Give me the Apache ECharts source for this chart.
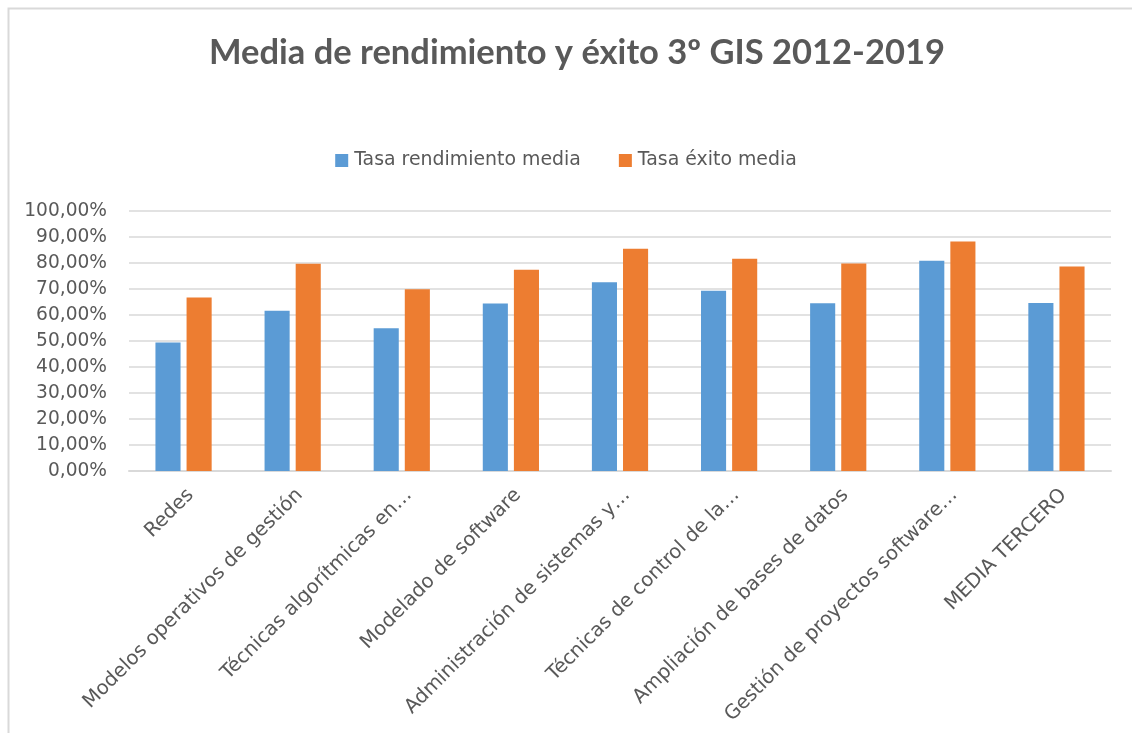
<!DOCTYPE html>
<html>
<head>
<meta charset="utf-8">
<script src="https://cdn.jsdelivr.net/npm/echarts@6/dist/echarts.min.js"></script>
<style>
  html, body { margin: 0; padding: 0; background: #ffffff; }
  #chart { width: 1132px; height: 733px; }
</style>
</head>
<body>
<div id="chart"></div>
<script>
// Asignaturas de 3º GIS (etiquetas tal como se muestran en el eje)
const categories = [
  'Redes',
  'Modelos operativos de gestión',
  'Técnicas algorítmicas en…',
  'Modelado de software',
  'Administración de sistemas y…',
  'Técnicas de control de la…',
  'Ampliación de bases de datos',
  'Gestión de proyectos software…',
  'MEDIA TERCERO'
];

// Tasas medias 2012-2019, en %
const tasaRendimiento = [49.4, 61.6, 54.9, 64.4, 72.6, 69.3, 64.5, 80.9, 64.6];
const tasaExito       = [66.7, 79.7, 69.9, 77.4, 85.5, 81.6, 79.8, 88.3, 78.7];

const yTicks = { min: 0, max: 100, interval: 10 };

const textColor = '#595959';
const bodyFont = '"DejaVu Sans", sans-serif';
const titleFont = 'Lato, "Open Sans", sans-serif';

const chart = echarts.init(document.getElementById('chart'), null, { renderer: 'canvas' });

chart.setOption({
  animation: false,
  backgroundColor: '#ffffff',
  textStyle: { fontFamily: bodyFont },
  graphic: [{
    type: 'rect',
    left: 6, top: 6,
    shape: { width: 1140, height: 740 },
    style: { fill: 'none', stroke: '#d9d9d9', lineWidth: 2 },
    silent: true
  }],
  title: {
    text: 'Media de rendimiento y éxito 3º GIS 2012-2019',
    left: 572,
    textAlign: 'center',
    top: 30,
    textStyle: { fontSize: 34.5, fontWeight: 'bold', color: textColor, fontFamily: titleFont }
  },
  legend: {
    top: 146,
    left: 'center',
    icon: 'rect',
    itemWidth: 13,
    itemHeight: 13,
    itemGap: 38,
    textStyle: { fontSize: 18.9, color: textColor, fontFamily: bodyFont, padding: [0, 0, 0, 1] },
    data: ['Tasa rendimiento media', 'Tasa éxito media']
  },
  grid: { left: 129, right: 21, top: 211, bottom: 262, containLabel: false },
  xAxis: {
    type: 'category',
    data: categories,
    axisTick: { show: false },
    axisLine: { lineStyle: { color: '#d9d9d9', width: 2 } },
    axisLabel: {
      interval: 0,
      rotate: 45,
      margin: 14,
      align: 'right',
      verticalAlign: 'top',
      fontSize: 19.7,
      fontFamily: bodyFont,
      color: textColor
    }
  },
  yAxis: {
    type: 'value',
    min: yTicks.min,
    max: yTicks.max,
    interval: yTicks.interval,
    axisLine: { show: false },
    axisTick: { show: false },
    splitLine: { lineStyle: { color: '#d9d9d9', width: 1.5 } },
    axisLabel: {
      margin: 22,
      fontSize: 18.6,
      fontFamily: bodyFont,
      color: textColor,
      formatter: v => v.toFixed(2).replace('.', ',') + '%'
    }
  },
  series: [
    {
      name: 'Tasa rendimiento media',
      type: 'bar',
      data: tasaRendimiento,
      barWidth: '23%',
      barGap: '24%',
      itemStyle: { color: '#5b9bd5' }
    },
    {
      name: 'Tasa éxito media',
      type: 'bar',
      data: tasaExito,
      barWidth: '23%',
      barGap: '24%',
      itemStyle: { color: '#ed7d31' }
    }
  ]
});
</script>
</body>
</html>
